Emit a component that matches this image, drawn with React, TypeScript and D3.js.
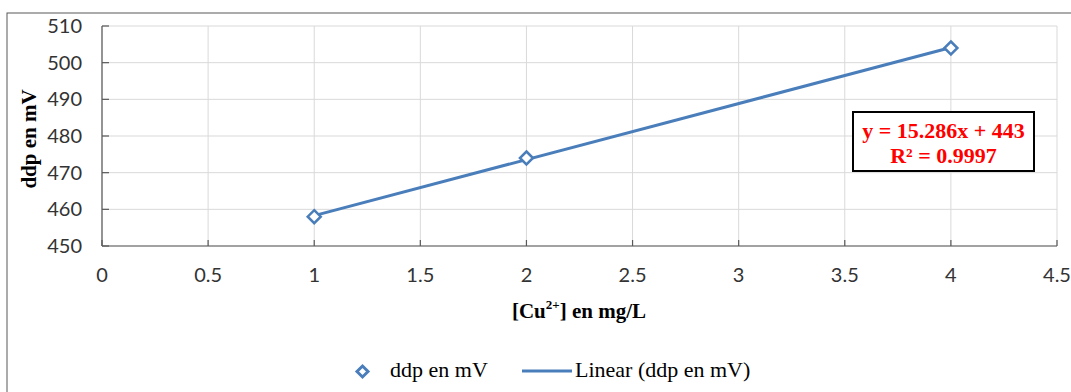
import React from "react";
import * as d3 from "d3";

const xValues = [1, 2, 4];
const yValues = [458, 474, 504];
const xTicks = [0, 0.5, 1, 1.5, 2, 2.5, 3, 3.5, 4, 4.5];
const yTicks = [450, 460, 470, 480, 490, 500, 510];
const seriesName = "ddp en mV";
const trendName = "Linear (ddp en mV)";

const W = 1071;
const H = 392;
const M = { left: 102, right: 1057, top: 26, bottom: 246 };
const BLUE = "#4A7EBB";

export default function App() {
  const x = d3.scaleLinear().domain([0, 4.5]).range([M.left, M.right]);
  const y = d3.scaleLinear().domain([450, 510]).range([M.bottom, M.top]);

  // least-squares fit
  const n = xValues.length;
  const mx = d3.mean(xValues)!;
  const my = d3.mean(yValues)!;
  let sxy = 0, sxx = 0, syy = 0;
  for (let i = 0; i < n; i++) {
    sxy += (xValues[i] - mx) * (yValues[i] - my);
    sxx += (xValues[i] - mx) ** 2;
    syy += (yValues[i] - my) ** 2;
  }
  const slope = sxy / sxx;
  const intercept = my - slope * mx;
  const r2 = (sxy * sxy) / (sxx * syy);
  const x0 = d3.min(xValues)!;
  const x1 = d3.max(xValues)!;
  const trend = d3.line<number>().x((d) => x(d)).y((d) => y(slope * d + intercept))([x0, x1]);

  const diamond = (cx: number, cy: number, r: number) =>
    `M${cx},${cy - r}L${cx + r},${cy}L${cx},${cy + r}L${cx - r},${cy}Z`;

  const serif = { fontFamily: "'Liberation Serif', 'Times New Roman', serif" };
  const sans = { fontFamily: "Lato, 'Open Sans', sans-serif" };

  return (
    <svg width={W} height={H} style={{ position: "absolute", left: 0, top: 0 }}>
      <rect x={0} y={0} width={W} height={H} fill="#fff" />
      <rect x={7} y={13} width={W + 20} height={H + 20} fill="#fff" stroke="#595959" strokeWidth={1} />
      {/* gridlines */}
      {xTicks.map((t) => (
        <line key={"gx" + t} x1={x(t)} x2={x(t)} y1={M.top} y2={M.bottom} stroke="#d9d9d9" strokeWidth={1} />
      ))}
      {yTicks.map((t) => (
        <line key={"gy" + t} x1={M.left} x2={M.right} y1={y(t)} y2={y(t)} stroke="#d9d9d9" strokeWidth={1} />
      ))}
      {/* axes */}
      <line x1={M.left} x2={M.left} y1={M.top} y2={M.bottom} stroke="#595959" strokeWidth={1.2} />
      <line x1={M.left} x2={M.right} y1={M.bottom} y2={M.bottom} stroke="#595959" strokeWidth={1.2} />
      {xTicks.map((t) => (
        <line key={"tx" + t} x1={x(t)} x2={x(t)} y1={M.bottom} y2={M.bottom - 6} stroke="#595959" strokeWidth={1.2} />
      ))}
      {yTicks.map((t) => (
        <line key={"ty" + t} x1={M.left} x2={M.left + 7} y1={y(t)} y2={y(t)} stroke="#595959" strokeWidth={1.2} />
      ))}
      {/* tick labels */}
      {xTicks.map((t) => (
        <text key={"lx" + t} x={x(t)} y={282} textAnchor="middle" style={sans} fontSize={20} fill="#333">
          {String(t)}
        </text>
      ))}
      {yTicks.map((t) => (
        <text key={"ly" + t} x={82} y={y(t) + 7} textAnchor="end" style={sans} fontSize={20} fill="#333">
          {String(t)}
        </text>
      ))}
      {/* axis titles */}
      <text
        transform={`translate(36,${(M.top + M.bottom) / 2 + 3}) rotate(-90)`}
        textAnchor="middle"
        style={serif}
        fontWeight="bold"
        fontSize={21}
        fill="#000"
      >
        {"ddp en mV"}
      </text>
      <text x={579} y={318} textAnchor="middle" style={serif} fontWeight="bold" fontSize={21} fill="#000">
        {"[Cu"}
        <tspan fontSize={13} dy={-9}>{"2+"}</tspan>
        <tspan dy={9}>{"] en mg/L"}</tspan>
      </text>
      {/* trend line */}
      <path d={trend ?? ""} fill="none" stroke={BLUE} strokeWidth={3} />
      {/* markers */}
      {xValues.map((v, i) => (
        <path key={"m" + i} d={diamond(x(v), y(yValues[i]), 6.5)} fill="#fff" stroke={BLUE} strokeWidth={2.5} />
      ))}
      {/* equation box */}
      <rect x={853} y={112} width={181} height={59} fill="#fff" stroke="#000" strokeWidth={2} />
      <text x={943.5} y={138} textAnchor="middle" style={serif} fontWeight="bold" fontSize={22} fill="#ff0000">
        {`y = ${slope.toFixed(3)}x + ${Math.round(intercept)}`}
      </text>
      <text x={943.5} y={163} textAnchor="middle" style={serif} fontWeight="bold" fontSize={22} fill="#ff0000">
        {`R² = ${r2.toFixed(4)}`}
      </text>
      {/* legend */}
      <path d={diamond(362.5, 371.5, 5.5)} fill="#fff" stroke={BLUE} strokeWidth={3} />
      <text x={390} y={377} style={serif} fontSize={22} fill="#000">{seriesName}</text>
      <line x1={522} x2={572} y1={371} y2={371} stroke={BLUE} strokeWidth={3} />
      <text x={575} y={377} style={serif} fontSize={22} fill="#000">{trendName}</text>
    </svg>
  );
}
